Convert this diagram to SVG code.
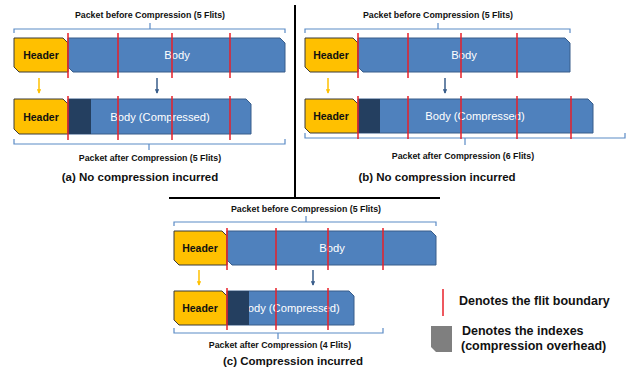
<svg xmlns="http://www.w3.org/2000/svg" width="627" height="367" viewBox="0 0 627 367">
<defs>
<marker id="ay" viewBox="0 0 6 6" refX="5" refY="3" markerWidth="4.5" markerHeight="4.5" orient="auto" markerUnits="userSpaceOnUse"><path d="M0,0 L6,3 L0,6 Z" fill="#FFC000"/></marker>
<marker id="ab" viewBox="0 0 6 6" refX="5" refY="3" markerWidth="4.5" markerHeight="4.5" orient="auto" markerUnits="userSpaceOnUse"><path d="M0,0 L6,3 L0,6 Z" fill="#385D8A"/></marker>
</defs>
<style>
.hdr{fill:#FFC000;stroke:#3B3B3B;stroke-width:1}
.body{fill:#4F81BD;stroke:#385D8A;stroke-width:1}
.idx{fill:#243F60}
.red{stroke:#E8202A;stroke-width:1.5}
.br{fill:none;stroke:#5B8BC6;stroke-width:1.2}
.sep{stroke:#000;stroke-width:2}
.t{font-family:"Liberation Sans",Arial,sans-serif;font-weight:bold;fill:#111;text-anchor:middle}
.lbl{font-size:8.8px}
.cap{font-size:11.5px}
.ht{font-size:10.5px}
.wt{font-family:"Liberation Sans",Arial,sans-serif;fill:#fff;font-size:11.2px;text-anchor:middle}
.lg{font-family:"Liberation Sans",Arial,sans-serif;font-weight:bold;fill:#111;font-size:12.5px}
.ya{stroke:#FFC000;stroke-width:1.5;marker-end:url(#ay)}
.ba{stroke:#385D8A;stroke-width:1.5;marker-end:url(#ab)}
</style>

<g id="separators">
<line class="sep" x1="295" y1="5" x2="295" y2="198"/>
<line class="sep" x1="169" y1="198" x2="440" y2="198"/>
</g>

<!-- Panel (a) -->
<g id="panel-a">
<text class="t lbl" x="150" y="18">Packet before Compression (5 Flits)</text>
<path class="br" d="M14,33 V29 H285 V33 M150,29 V23"/>
<g id="a-header1"><path class="hdr" d="M14,38 H63 L68,43 V72 H19 L14,67 Z"/><text class="t ht" x="41" y="59">Header</text></g>
<g id="a-body1"><path class="body" d="M68,38 H280 L285,43 V72 H73 L68,67 Z"/><text class="wt" x="177" y="59">Body</text></g>
<g id="a-header2"><path class="hdr" d="M14,99 H63 L68,104 V134 H19 L14,129 Z"/><text class="t ht" x="41" y="121">Header</text></g>
<g id="a-body2"><path class="body" d="M68,99 H246 L251,104 V134 H68 Z"/><text class="wt" x="160" y="121">Body (Compressed)</text><path class="idx" d="M68,99 H91 V134 H68 Z"/></g>
<path class="br" d="M14,139 V144 H285 V139 M149,144 V150"/>
<text class="t lbl" x="150" y="161">Packet after Compression (5 Flits)</text>
<text class="t cap" x="140" y="181">(a) No compression incurred</text>
</g>

<!-- Panel (b) -->
<g id="panel-b">
<text class="t lbl" x="438" y="18">Packet before Compression (5 Flits)</text>
<path class="br" d="M305,33 V29 H570 V33 M438,29 V23"/>
<g id="b-header1"><path class="hdr" d="M305,38 H353 L358,43 V72 H310 L305,67 Z"/><text class="t ht" x="331" y="59">Header</text></g>
<g id="b-body1"><path class="body" d="M358,38 H565 L570,43 V72 H363 L358,67 Z"/><text class="wt" x="464" y="59">Body</text></g>
<g id="b-header2"><path class="hdr" d="M305,99 H353 L358,104 V133 H310 L305,128 Z"/><text class="t ht" x="331" y="120">Header</text></g>
<g id="b-body2"><path class="body" d="M358,99 H588 L593,104 V133 H358 Z"/><text class="wt" x="475" y="120">Body (Compressed)</text><path class="idx" d="M358,99 H380 V133 H358 Z"/></g>
<path class="br" d="M305,133 V138 H625 V133 M465,138 V145"/>
<text class="t lbl" x="463" y="159">Packet after Compression (6 Flits)</text>
<text class="t cap" x="437" y="181">(b) No compression incurred</text>
</g>

<!-- Panel (c) -->
<g id="panel-c">
<text class="t lbl" x="306" y="212">Packet before Compression (5 Flits)</text>
<path class="br" d="M174,226 V222 H436 V226 M306,222 V216"/>
<g id="c-header1"><path class="hdr" d="M174,231 H222 L227,236 V265 H179 L174,260 Z"/><text class="t ht" x="200" y="252">Header</text></g>
<g id="c-body1"><path class="body" d="M227,231 H431 L436,236 V265 H232 L227,260 Z"/><text class="wt" x="332" y="252">Body</text></g>
<g id="c-header2"><path class="hdr" d="M174,291 H222 L227,296 V325 H179 L174,320 Z"/><text class="t ht" x="200" y="312">Header</text></g>
<g id="c-body2"><path class="body" d="M227,291 H349 L354,296 V325 H227 Z"/><text class="wt" x="290" y="312">Body (Compressed)</text><path class="idx" d="M227,291 H249 V325 H227 Z"/></g>
<path class="br" d="M174,328 V333 H383 V328 M278,333 V339"/>
<text class="t lbl" x="280" y="348">Packet after Compression (4 Flits)</text>
<text class="t cap" x="293" y="365">(c) Compression incurred</text>
</g>

<!-- Connectors -->
<g id="connectors">
<line class="ya" x1="39" y1="78" x2="39" y2="93"/>
<line class="ba" x1="157" y1="78" x2="157" y2="93"/>
<line class="ya" x1="328" y1="78" x2="328" y2="93"/>
<line class="ba" x1="445" y1="78" x2="445" y2="93"/>
<line class="ya" x1="199" y1="270" x2="199" y2="285"/>
<line class="ba" x1="313" y1="270" x2="313" y2="285"/>
</g>

<!-- Flit boundaries -->
<g id="flit-boundaries">
<path class="red" d="M68,33 V78 M118,33 V78 M172,33 V78 M230,33 V78 M68,96 V140 M118,96 V140 M172,96 V140 M230,96 V140"/>
<path class="red" d="M358,33 V78 M408,33 V78 M461,33 V78 M517,33 V78 M358,96 V139 M408,96 V139 M461,96 V139 M517,96 V139 M571,96 V139"/>
<path class="red" d="M227,228 V270 M276,228 V270 M328,228 V270 M383,228 V270 M227,288 V330 M276,288 V330 M328,288 V330"/>
</g>

<!-- Legend -->
<g id="legend">
<line class="red" x1="443" y1="289" x2="443" y2="316"/>
<text class="lg" x="459" y="305">Denotes the flit boundary</text>
<path d="M431,326 H452 V352 H436 L431,347 Z" fill="#7F7F7F"/>
<text class="lg" x="462" y="335">Denotes the indexes</text>
<text class="lg" x="461" y="350">(compression overhead)</text>
</g>
</svg>
